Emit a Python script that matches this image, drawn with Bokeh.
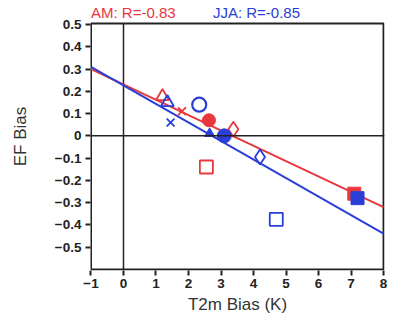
from bokeh.plotting import figure
from bokeh.models import Span, FixedTicker, Range1d
from bokeh.core.properties import value
from bokeh.embed import file_html
from bokeh.resources import INLINE
import numpy as np

# AM (red) points
am_tri = ([1.2], [0.177])
am_x = ([1.8], [0.11])
am_dot = ([2.63], [0.07])
am_dia = ([3.38], [0.03])
am_sq = ([2.55], [-0.14])
am_fsq = ([7.1], [-0.26])
# JJA (blue) points
jja_tri = ([1.35], [0.15])
jja_x = ([1.45], [0.06])
jja_circ = ([2.33], [0.14])
jja_ftri = ([2.65], [0.01])
jja_dot = ([3.1], [0.0])
jja_dia = ([4.2], [-0.095])
jja_sq = ([4.7], [-0.375])
jja_fsq = ([7.2], [-0.28])

# regression fits (slope, intercept)
am_fit = (-0.0689, 0.231)
jja_fit = (-0.0833, 0.227)

titles = ["AM: R=-0.83", "JJA: R=-0.85"]

x_ticks = [-1, 0, 1, 2, 3, 4, 5, 6, 7, 8]
x_tick_labels = ["\u22121", "0", "1", "2", "3", "4", "5", "6", "7", "8"]
y_ticks = [-0.5, -0.4, -0.3, -0.2, -0.1, 0, 0.1, 0.2, 0.3, 0.4, 0.5]
y_tick_labels = ["\u22120.5", "\u22120.4", "\u22120.3", "\u22120.2", "\u22120.1", "0",
                 "0.1", "0.2", "0.3", "0.4", "0.5"]

# axes box limits
X0, X1 = -1.0, 8.0
Y0, Y1 = -0.6, 0.505

RED = "#e8383d"
BLUE = "#2a3fd8"
INK = "#222222"
FONT = "Liberation Sans"

p = figure(width=387, height=316, output_backend="svg", toolbar_location=None,
           x_range=Range1d(X0 - 0.015, X1 + 0.03), y_range=Range1d(Y0 - 0.005, 0.599),
           min_border_left=90, min_border_right=3, min_border_top=2, min_border_bottom=43)
p.grid.visible = False
p.outline_line_color = None

for ax in (p.xaxis[0], p.yaxis[0]):
    ax.axis_line_color = None
    ax.major_tick_line_width = 2
    ax.major_tick_line_color = INK
    ax.major_tick_out = 5
    ax.major_tick_in = 0
    ax.minor_tick_line_color = None
    ax.major_label_text_font = FONT
    ax.major_label_text_font_style = "bold"
    ax.major_label_text_font_size = "13.5px"
    ax.major_label_text_color = INK
    ax.axis_label_text_font = FONT
    ax.axis_label_text_font_style = "normal"
    ax.axis_label_text_font_size = "17px"
    ax.axis_label_text_color = "#333333"

p.xaxis.ticker = FixedTicker(ticks=x_ticks)
p.xaxis.major_label_overrides = {t_: l for t_, l in zip(x_ticks, x_tick_labels)}
p.yaxis.ticker = FixedTicker(ticks=y_ticks)
p.yaxis.major_label_overrides = {t_: l for t_, l in zip(y_ticks, y_tick_labels)}
p.xaxis.axis_label = "T2m Bias (K)"
p.yaxis.axis_label = "EF Bias"
p.xaxis.major_label_standoff = 3
p.yaxis.major_label_standoff = 4
p.yaxis.axis_label_standoff = 22
p.xaxis.axis_label_standoff = 4

# axes box
p.line([X0, X1, X1, X0, X0], [Y0, Y0, Y1, Y1, Y0], line_color=INK, line_width=2)
# zero lines
p.add_layout(Span(location=0, dimension="width", line_color=INK, line_width=1.5))
p.line([0, 0], [Y0, Y1], line_color=INK, line_width=1.5)

xs = np.array([X0, X1])
p.line(xs, am_fit[0] * xs + am_fit[1], line_color=RED, line_width=2)
p.line(xs, jja_fit[0] * xs + jja_fit[1], line_color=BLUE, line_width=2)

lw = 1.8
# red markers
p.scatter(*am_tri, marker="triangle", size=13, fill_color=None, line_color=RED, line_width=lw)
p.scatter(*am_x, marker="x", size=11, line_color=RED, line_width=lw)
p.scatter(*am_dot, marker="circle", size=13, fill_color=RED, line_color=RED)
p.scatter(*am_dia, marker="diamond", size=15, fill_color=None, line_color=RED, line_width=lw)
p.scatter(*am_sq, marker="square", size=13, fill_color=None, line_color=RED, line_width=lw)
p.scatter(*am_fsq, marker="square", size=13, fill_color=RED, line_color=RED)
# blue markers
p.scatter(*jja_tri, marker="triangle", size=13, fill_color=None, line_color=BLUE, line_width=lw)
p.scatter(*jja_x, marker="x", size=11, line_color=BLUE, line_width=lw)
p.scatter(*jja_circ, marker="circle", size=14, fill_color=None, line_color=BLUE, line_width=2.2)
p.scatter(*jja_ftri, marker="triangle", size=10, fill_color=BLUE, line_color=BLUE)
p.scatter(*jja_dot, marker="circle", size=14, fill_color=BLUE, line_color=BLUE)
p.scatter(*jja_dia, marker="diamond", size=15, fill_color=None, line_color=BLUE, line_width=lw)
p.scatter(*jja_sq, marker="square", size=13, fill_color=None, line_color=BLUE, line_width=lw)
p.scatter(*jja_fsq, marker="square", size=13, fill_color=BLUE, line_color=BLUE)

# titles above the box
p.text(x=[X0], y=[0.553], text=[titles[0]], text_color=RED, text_font=value(FONT),
       text_font_size="15px", text_baseline="middle")
p.text(x=[2.75], y=[0.553], text=[titles[1]], text_color=BLUE, text_font=value(FONT),
       text_font_size="15px", text_baseline="middle")

open("out.html", "w").write(file_html(p, INLINE))
